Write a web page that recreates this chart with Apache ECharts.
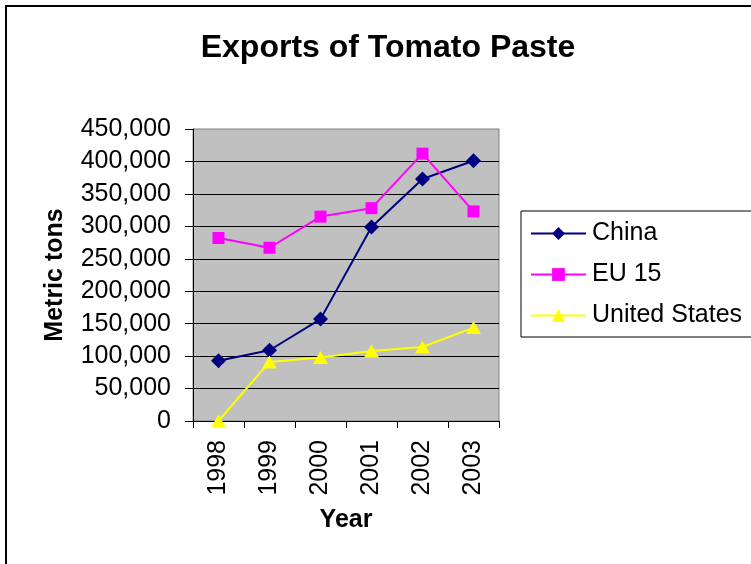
<!DOCTYPE html>
<html>
<head>
<meta charset="utf-8">
<script src="https://cdn.jsdelivr.net/npm/echarts@6/dist/echarts.min.js"></script>
<style>
  html, body { margin: 0; padding: 0; background: #fff; }
  #chart { width: 751px; height: 564px; }
</style>
</head>
<body>
<div id="chart"></div>
<script>
// Tomato paste exports, metric tons
const years = ['1998', '1999', '2000', '2001', '2002', '2003'];
const china = [93000, 109000, 157000, 299000, 373000, 401000];
const eu15 = [282000, 267000, 315000, 328000, 412000, 323000];
const unitedStates = [0, 91000, 98000, 108000, 114000, 144000];

const FONT = 'Liberation Sans, Arial, sans-serif';

const chart = echarts.init(document.getElementById('chart'), null, { renderer: 'canvas' });

function lineSeries(name, data, color, symbol, size) {
  return {
    name: name,
    type: 'line',
    data: data,
    symbol: symbol,
    symbolSize: size,
    showAllSymbol: true,
    lineStyle: { color: color, width: 2 },
    itemStyle: { color: color, borderWidth: 0 },
    emphasis: { disabled: true }
  };
}

chart.setOption({
  animation: false,
  backgroundColor: '#ffffff',
  textStyle: { fontFamily: FONT },
  graphic: [{
    type: 'rect',
    shape: { x: 6, y: 6, width: 900, height: 700 },
    style: { fill: null, stroke: '#000', lineWidth: 2 },
    silent: true,
    z: 100
  }],
  title: {
    text: 'Exports of Tomato Paste',
    left: 383,
    textAlign: 'center',
    top: 27,
    textStyle: { fontFamily: FONT, fontSize: 32, fontWeight: 'bold', color: '#000' }
  },
  legend: {
    orient: 'vertical',
    left: 521,
    top: 211,
    padding: [10, 40, 9, 9],
    itemWidth: 55,
    itemHeight: 16,
    itemGap: 16,
    borderColor: '#000',
    borderWidth: 1,
    backgroundColor: '#fff',
    textStyle: { fontFamily: FONT, fontSize: 25, color: '#000', padding: [0, 0, 0, 1] },
    data: ['China', 'EU 15', 'United States']
  },
  grid: {
    left: 193,
    right: 252,
    top: 129,
    bottom: 143,
    show: true,
    backgroundColor: '#C0C0C0',
    borderColor: '#808080',
    borderWidth: 1
  },
  xAxis: {
    type: 'category',
    data: years,
    boundaryGap: true,
    name: 'Year',
    nameLocation: 'middle',
    nameGap: 87,
    nameTextStyle: { fontFamily: FONT, fontSize: 25, fontWeight: 'bold', color: '#000' },
    axisLine: { lineStyle: { color: '#000', width: 1 } },
    axisTick: { show: true, length: 7, inside: false, alignWithLabel: false, lineStyle: { color: '#000' } },
    axisLabel: { rotate: 90, fontSize: 25, color: '#000', margin: 19, fontFamily: FONT },
    splitLine: { show: false }
  },
  yAxis: {
    type: 'value',
    min: 0,
    max: 450000,
    interval: 50000,
    name: 'Metric tons',
    nameLocation: 'middle',
    nameGap: 125,
    nameTextStyle: { fontFamily: FONT, fontSize: 25, fontWeight: 'bold', color: '#000' },
    axisLine: { show: true, lineStyle: { color: '#000', width: 1 } },
    axisTick: { show: true, length: 8, inside: false, lineStyle: { color: '#000' } },
    axisLabel: {
      fontSize: 25,
      color: '#000',
      margin: 22,
      fontFamily: FONT,
      formatter: function (v) { return v.toLocaleString('en-US'); }
    },
    splitLine: { show: true, showMaxLine: false, lineStyle: { color: '#000', width: 1 } }
  },
  series: [
    lineSeries('China', china, '#000080', 'diamond', 15),
    lineSeries('EU 15', eu15, '#FF00FF', 'rect', 12),
    lineSeries('United States', unitedStates, '#FFFF00', 'triangle', [15, 13])
  ]
});
</script>
</body>
</html>
